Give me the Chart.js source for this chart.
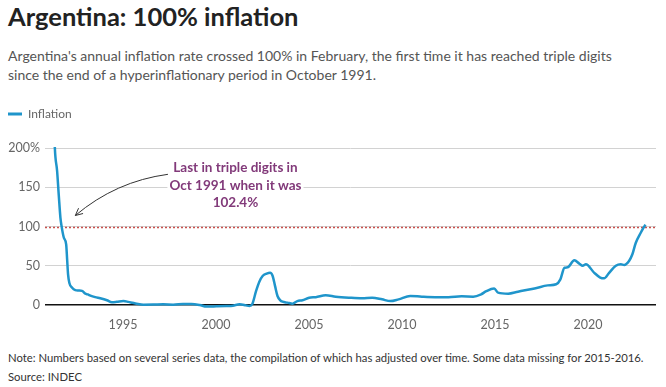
<!DOCTYPE html>
<html><head><meta charset="utf-8">
<script src="https://cdn.jsdelivr.net/npm/chart.js@4"></script>
<style>
html,body{margin:0;padding:0;background:#fff}
body{width:666px;height:387px;position:relative;overflow:hidden;font-family:Lato,"Noto Sans",sans-serif}
#title{position:absolute;left:8px;top:1px;font-size:25.5px;font-weight:bold;color:#222;white-space:nowrap}
#sub{position:absolute;left:8px;top:46px;font-size:14px;line-height:19px;color:#555;white-space:nowrap}
#wrap{position:absolute;left:0;top:100px;width:666px;height:244px}
#note{position:absolute;left:8px;top:348px;font-size:11.3px;line-height:19px;color:#333;white-space:nowrap}
</style></head>
<body>
<div id="title">Argentina: 100% inflation</div>
<div id="sub">Argentina's annual inflation rate crossed 100% in February, the first time it has reached triple digits<br>since the end of a hyperinflationary period in October 1991.</div>
<div id="wrap"><canvas id="c" width="666" height="244"></canvas></div>
<div id="note">Note: Numbers based on several series data, the compilation of which has adjusted over time. Some data missing for 2015-2016.<br>Source: INDEC</div>
<script>
const seriesName = 'Inflation';
const years = [1991.25,1991.33,1991.45,1991.54,1991.63,1991.68,1991.81,1991.94,1991.99,1992.04,1992.11,1992.26,1992.43,1992.6,1992.79,1992.97,1993.1,1993.24,1993.5,1993.77,1994.13,1994.4,1994.66,1995.02,1995.28,1995.5,1995.73,1996.09,1996.62,1997.16,1997.69,1998.22,1998.67,1999.12,1999.48,2000.01,2000.55,2000.9,2001.26,2001.6,2001.79,2001.94,2002.15,2002.33,2002.5,2002.72,2002.9,2003.04,2003.17,2003.3,2003.45,2003.57,2003.84,2004.11,2004.37,2004.64,2005.0,2005.36,2005.89,2006.43,2007.14,2007.85,2008.39,2008.92,2009.37,2009.81,2010.44,2011.06,2011.78,2012.49,2013.2,2013.82,2014.25,2014.5,2014.95,2015.16,2015.7,2016.23,2017.12,2017.83,2018.28,2018.51,2018.73,2018.9,2019.26,2019.53,2019.71,2019.88,2020.33,2020.65,2020.86,2021.13,2021.49,2021.76,2021.94,2022.2,2022.38,2022.56,2022.83,2023.08];
const inflation = [267,200,171,140,111,102,86,77,58,39,28,22,19,18.5,18,14.4,13.5,12,10,8.5,6,3.5,4,5,4,2.8,1.6,0.4,0.5,0.8,0.4,1.2,1.3,0,-2,-1.7,-1.3,-0.9,0.8,-0.5,-1.3,1,18,30,37,40,41,37,24,11.5,6,4.2,3,1.7,5,6,9.3,10,12.3,10.6,9.3,8.5,9.3,7.2,5,7.2,11.5,10.6,10,10,11,10.6,13.6,17.2,21,15.7,14.4,17,21,25,26.4,32.7,47.5,48,57,52.6,50,51.8,41,35,34,41,50,51.8,51,56,64.6,79,92,102.5];
const tickYears = [1995,2000,2005,2010,2015,2020];
const yTicks = [0,50,100,150,200];
const thresholdValue = 100;
const noteLines = ['Last in triple digits in','Oct 1991 when it was','102.4%'];

const LINE = '#1f95cb';
const PURPLE = '#823a7a';
const FONT = 'Lato';

const legendSpacer = {
  id:'legendSpacer',
  beforeInit(chart){
    const lg = chart.legend;
    const orig = lg.fit;
    lg.fit = function(){ orig.call(lg); this.height += 18; };
  }
};

const annot = {
  id:'annot',
  beforeDatasetsDraw(chart){
    const {ctx, chartArea:a, scales:{y}} = chart;
    const py = Math.round(y.getPixelForValue(thresholdValue)) + 0.5;
    ctx.save();
    ctx.strokeStyle = '#c8504c';
    ctx.lineWidth = 1.5;
    ctx.setLineDash([2,2]);
    ctx.beginPath(); ctx.moveTo(a.left, py); ctx.lineTo(a.right, py); ctx.stroke();
    ctx.restore();
  },
  afterDatasetsDraw(chart){
    const {ctx, scales:{x, y}} = chart;
    ctx.save();
    ctx.font = 'bold 13.5px ' + FONT;
    ctx.textAlign = 'center';
    ctx.textBaseline = 'middle';
    const cx = x.getPixelForValue(2001.04);
    const lineVals = [174.5, 152, 130];
    noteLines.forEach((t,i)=>{
      const py = y.getPixelForValue(lineVals[i]);
      const w = ctx.measureText(t).width;
      ctx.fillStyle = '#fff';
      ctx.fillRect(cx - w/2 - 2, py - 8, w + 4, 16);
      ctx.fillStyle = PURPLE;
      ctx.fillText(t, cx, py);
    });
    const p0 = [x.getPixelForValue(1997.41), y.getPixelForValue(166.5)];
    const c  = [x.getPixelForValue(1994.6), y.getPixelForValue(157.5)];
    const p2 = [x.getPixelForValue(1992.43), y.getPixelForValue(114)];
    ctx.strokeStyle = '#333';
    ctx.lineWidth = 1;
    ctx.beginPath(); ctx.moveTo(p0[0], p0[1]); ctx.quadraticCurveTo(c[0], c[1], p2[0], p2[1]); ctx.stroke();
    const ang = Math.atan2(p2[1]-c[1], p2[0]-c[0]);
    const L = 8, sp = 0.45;
    ctx.beginPath();
    ctx.moveTo(p2[0] - L*Math.cos(ang - sp), p2[1] - L*Math.sin(ang - sp));
    ctx.lineTo(p2[0], p2[1]);
    ctx.lineTo(p2[0] - L*Math.cos(ang + sp), p2[1] - L*Math.sin(ang + sp));
    ctx.stroke();
    ctx.restore();
  }
};

new Chart(document.getElementById('c'), {
  type:'line',
  data:{datasets:[{
    label: seriesName,
    data: years.map((v,i)=>({x:v, y:inflation[i]})),
    borderColor: LINE, backgroundColor: LINE,
    borderWidth: 2.5, pointRadius: 0,
    cubicInterpolationMode: 'monotone',
    clip: {left: 2, top: 1, right: 4, bottom: 8}
  }]},
  options:{
    responsive:false, animation:false,
    layout:{padding:{left:0,right:10,top:0,bottom:0}},
    plugins:{
      legend:{display:true, position:'top', align:'start',
        labels:{boxWidth:14, boxHeight:3, padding:8, color:'#666', font:{family:FONT, size:12},
          generateLabels:(chart)=>{
            const items = Chart.defaults.plugins.legend.labels.generateLabels(chart);
            items.forEach(it=>{ it.lineWidth = 0; });
            return items;
          }}},
      tooltip:{enabled:false}
    },
    scales:{
      x:{type:'linear', min:1990.8, max:2023.65,
        grid:{display:false, drawTicks:false}, border:{display:false},
        afterBuildTicks:(s)=>{ s.ticks = tickYears.map(v=>({value:v})); },
        ticks:{padding:12, color:'#666', font:{family:FONT, size:12.5}, maxRotation:0, callback:(v)=>String(v)}},
      y:{min:0, max:200,
        afterBuildTicks:(s)=>{ s.ticks = yTicks.map(v=>({value:v})); },
        afterFit:(s)=>{ s.width = 45; },
        border:{display:false},
        grid:{drawTicks:false, color:(c)=> c.tick && c.tick.value===0 ? '#111' : '#d2d2d2', lineWidth:(c)=> c.tick && c.tick.value===0 ? 1.5 : 1},
        ticks:{padding:5, color:'#666', font:{family:FONT, size:12.5}, callback:(v)=> v===200 ? v+'%' : String(v)}}
    }
  },
  plugins:[legendSpacer, annot]
});
</script>
</body></html>
